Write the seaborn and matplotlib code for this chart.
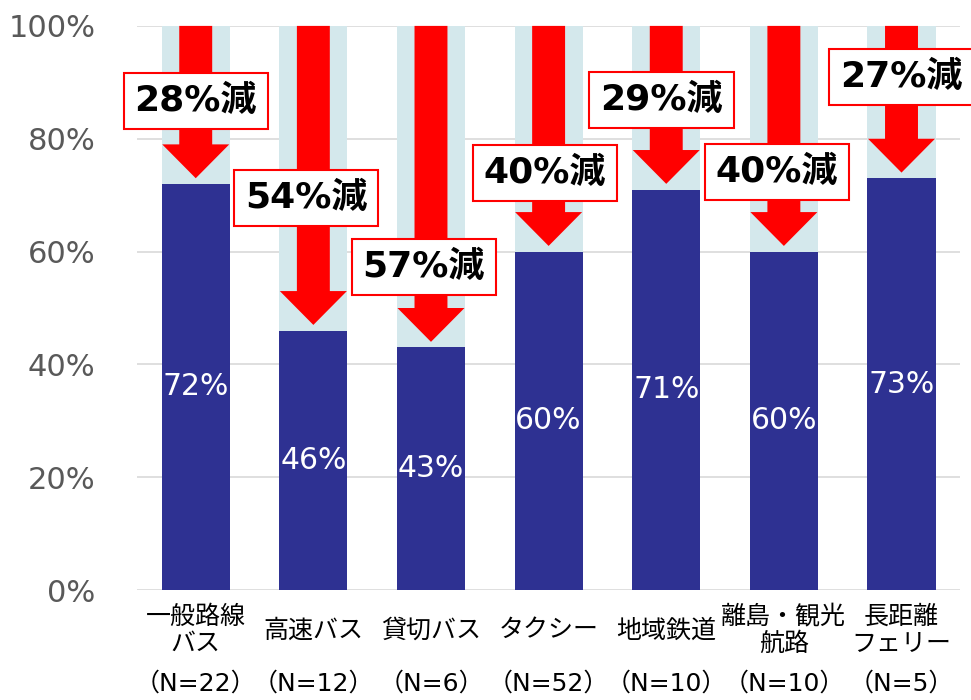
import pandas as pd
import matplotlib.pyplot as plt
import seaborn as sns
from matplotlib.patches import FancyArrow

categories = ['一般路線\nバス', '高速バス', '貸切バス', 'タクシー', '地域鉄道', '離島・観光\n航路', '長距離\nフェリー']
n_labels = ['（N=22）', '（N=12）', '（N=6）', '（N=52）', '（N=10）', '（N=10）', '（N=5）']
values = [72, 46, 43, 60, 71, 60, 73]
decrease = [28, 54, 57, 40, 29, 40, 27]

# where the "xx%減" boxes sit (layout only)
box_y = [86.7, 69.5, 57.3, 73.9, 86.9, 74.1, 91.0]
box_dx = [0.0, -0.06, -0.06, -0.03, -0.04, -0.06, 0.0]

sns.set_theme(style='white')
plt.rcParams['font.family'] = ['DejaVu Sans', 'Noto Sans CJK JP']

df = pd.DataFrame({'cat': categories, 'value': values, 'full': [100] * len(values)})

fig = plt.figure(figsize=(9.71, 7), dpi=100)
ax = fig.add_axes([0.141, 0.157, 0.848, 0.806])

ax.set_axisbelow(True)
ax.yaxis.grid(True, color='#d9d9d9', lw=1.2)
sns.barplot(data=df, x='cat', y='full', color='#d4e8ec', width=0.58, saturation=1,
            edgecolor='none', linewidth=0, ax=ax)
sns.barplot(data=df, x='cat', y='value', color='#2e3192', width=0.58, saturation=1,
            edgecolor='none', linewidth=0, ax=ax)

for i, v in enumerate(values):
    ax.text(i, v / 2, f'{v}%', color='white', fontsize=21.5, ha='center', va='center')
    arrow = FancyArrow(i, 100, 0, -(100 - v - 1), width=0.28, head_width=0.57,
                       head_length=6.0, length_includes_head=True,
                       color='#ff0000', lw=0, zorder=4, clip_on=False)
    ax.add_patch(arrow)
    ax.text(i + box_dx[i], box_y[i], f'{decrease[i]}%減', fontsize=26, fontweight='bold',
            ha='center', va='center', color='black', zorder=5, clip_on=False,
            bbox=dict(boxstyle='square,pad=0.3', fc='white', ec='#ff0000', lw=1.5))

ax.set_ylim(0, 100)
ax.set_xlim(-0.5, len(values) - 0.5)
ax.set_yticks(range(0, 101, 20))
ax.set_yticklabels([f'{t}%' for t in range(0, 101, 20)], color='#595959', fontsize=22)
ax.set_xticks(range(len(categories)))
ax.set_xticklabels([])
ax.tick_params(length=0, pad=30)
ax.set_xlabel('')
ax.set_ylabel('')
sns.despine(ax=ax, left=True, bottom=True, top=True, right=True)

for i, (name, n) in enumerate(zip(categories, n_labels)):
    ax.annotate(name, xy=(i, 0), xycoords=('data', 'axes fraction'), xytext=(0, -29),
                textcoords='offset points', ha='center', va='center', fontsize=18,
                linespacing=1.15, color='black', annotation_clip=False)
    ax.annotate(n, xy=(i, 0), xycoords=('data', 'axes fraction'), xytext=(0, -67),
                textcoords='offset points', ha='center', va='center', fontsize=18,
                color='black', annotation_clip=False)

plt.savefig('out.png', dpi=100)
